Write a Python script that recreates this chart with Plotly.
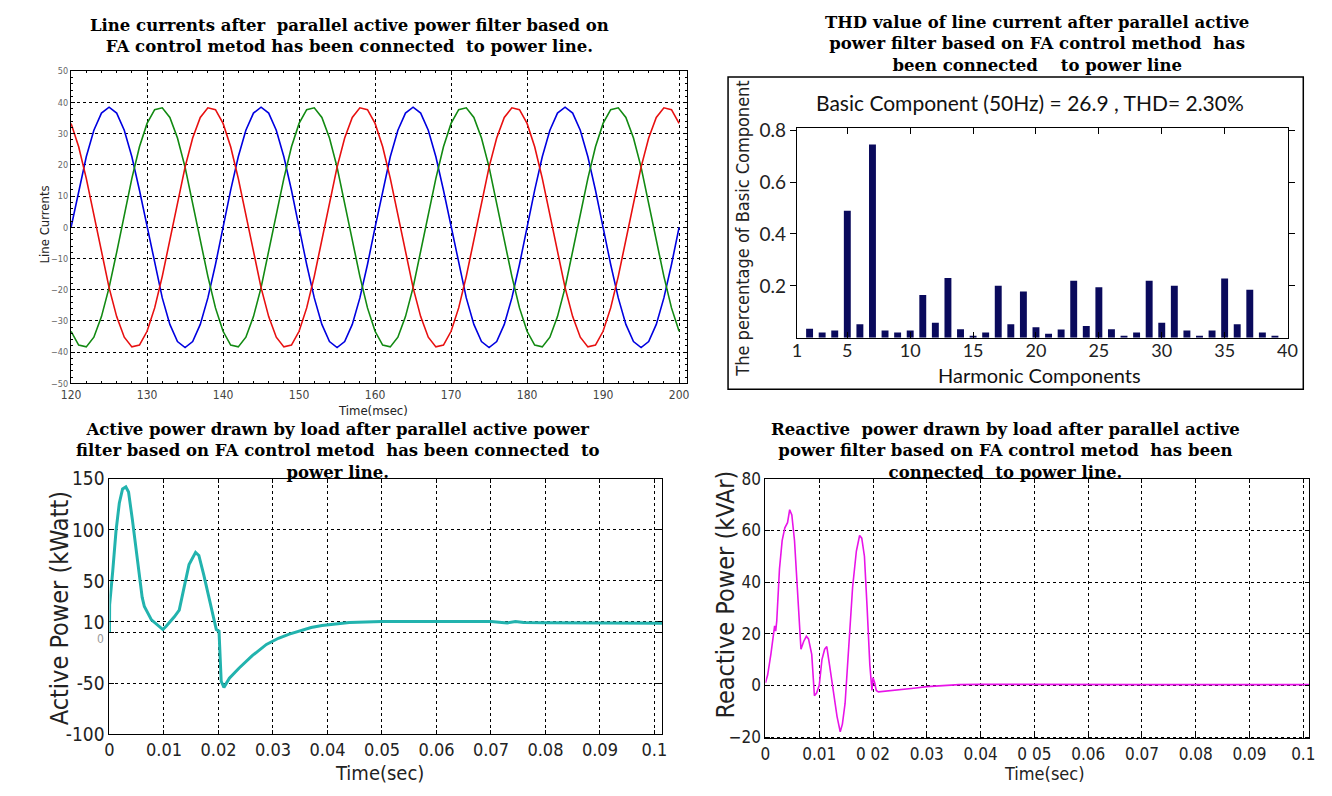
import plotly.graph_objects as go

W, H = 1332, 796

# ---------------- data ----------------
# Panel 1: three-phase line currents (ms, A), read at 1 ms steps
time_ms = list(range(120, 201))
phase_a = [0, 11.9, 22.6, 31.1, 36.6, 38.5, 36.6, 31.1, 22.6, 11.9, 0, -11.9, -22.6, -31.1, -36.6, -38.5, -36.6, -31.1, -22.6, -11.9,
           0, 11.9, 22.6, 31.1, 36.6, 38.5, 36.6, 31.1, 22.6, 11.9, 0, -11.9, -22.6, -31.1, -36.6, -38.5, -36.6, -31.1, -22.6, -11.9,
           0, 11.9, 22.6, 31.1, 36.6, 38.5, 36.6, 31.1, 22.6, 11.9, 0, -11.9, -22.6, -31.1, -36.6, -38.5, -36.6, -31.1, -22.6, -11.9,
           0, 11.9, 22.6, 31.1, 36.6, 38.5, 36.6, 31.1, 22.6, 11.9, 0, -11.9, -22.6, -31.1, -36.6, -38.5, -36.6, -31.1, -22.6, -11.9,
           0]
phase_b = [-33.3, -37.7, -38.3, -35.2, -28.6, -19.3, -8.0, 4.0, 15.7, 25.8, 33.3, 37.7, 38.3, 35.2, 28.6, 19.3, 8.0, -4.0, -15.7, -25.8,
           -33.3, -37.7, -38.3, -35.2, -28.6, -19.3, -8.0, 4.0, 15.7, 25.8, 33.3, 37.7, 38.3, 35.2, 28.6, 19.3, 8.0, -4.0, -15.7, -25.8,
           -33.3, -37.7, -38.3, -35.2, -28.6, -19.3, -8.0, 4.0, 15.7, 25.8, 33.3, 37.7, 38.3, 35.2, 28.6, 19.3, 8.0, -4.0, -15.7, -25.8,
           -33.3, -37.7, -38.3, -35.2, -28.6, -19.3, -8.0, 4.0, 15.7, 25.8, 33.3, 37.7, 38.3, 35.2, 28.6, 19.3, 8.0, -4.0, -15.7, -25.8,
           -33.3]
phase_c = [33.3, 25.8, 15.7, 4.0, -8.0, -19.3, -28.6, -35.2, -38.3, -37.7, -33.3, -25.8, -15.7, -4.0, 8.0, 19.3, 28.6, 35.2, 38.3, 37.7,
           33.3, 25.8, 15.7, 4.0, -8.0, -19.3, -28.6, -35.2, -38.3, -37.7, -33.3, -25.8, -15.7, -4.0, 8.0, 19.3, 28.6, 35.2, 38.3, 37.7,
           33.3, 25.8, 15.7, 4.0, -8.0, -19.3, -28.6, -35.2, -38.3, -37.7, -33.3, -25.8, -15.7, -4.0, 8.0, 19.3, 28.6, 35.2, 38.3, 37.7,
           33.3, 25.8, 15.7, 4.0, -8.0, -19.3, -28.6, -35.2, -38.3, -37.7, -33.3, -25.8, -15.7, -4.0, 8.0, 19.3, 28.6, 35.2, 38.3, 37.7,
           33.3]

# Panel 2: harmonic spectrum (% of basic component)
harmonic_order = list(range(2, 40))
harmonic_pct = [0.035, 0.020, 0.028, 0.490, 0.052, 0.745, 0.028, 0.020, 0.028, 0.165,
                0.058, 0.230, 0.033, 0.008, 0.020, 0.200, 0.052, 0.178, 0.040, 0.015,
                0.032, 0.220, 0.045, 0.195, 0.033, 0.008, 0.020, 0.220, 0.058, 0.200,
                0.028, 0.008, 0.028, 0.228, 0.052, 0.185, 0.020, 0.008]
harmonic_ticks = [1, 5, 10, 15, 20, 25, 30, 35, 40]

# Panel 3: active power (s, kW)
p_time = [0, 0.00003, 0.0006, 0.0012, 0.0018, 0.0024, 0.0030, 0.0035, 0.0042, 0.0051, 0.0060, 0.0064, 0.0077,
          0.0098, 0.0104, 0.0119, 0.0128, 0.0137, 0.0146, 0.0158, 0.0164, 0.0173, 0.0185, 0.0196, 0.0201, 0.0205,
          0.0210, 0.0220, 0.0238, 0.0262, 0.0288, 0.0310, 0.0330, 0.0350, 0.0370, 0.0390, 0.0410, 0.0440, 0.0470,
          0.0500, 0.0600, 0.0700, 0.0720, 0.0730, 0.0745, 0.0760, 0.0800, 0.0900, 0.1000, 0.1014]
p_value = [0, 27, 60, 99, 126, 140, 142, 137, 110, 69, 34, 25, 12,
           2.5, 5.7, 15, 21.5, 44, 66, 78, 75, 56, 28, 2.5, 1, -48,
           -54, -45, -35, -23, -12, -6, -2, 1.5, 4.5, 6.5, 8, 9.5, 10,
           10.5, 10.5, 10.3, 9.5, 9, 10.5, 9.5, 9.2, 9, 8.8, 8.8]
p_tickvals = [150, 100, 50, 10, 0, -50, -100]
p_ticktext = ["150", "100", "50", "10", "", "-50", "-100"]

# Panel 4: reactive power (s, kVAr)
q_time = [0, 0.0004, 0.0010, 0.0015, 0.0017, 0.0019, 0.0021, 0.0026, 0.0031, 0.0036, 0.0041, 0.0045, 0.0049,
          0.0054, 0.0060, 0.0066, 0.0071, 0.0076, 0.0080, 0.0086, 0.0091, 0.0095, 0.0100, 0.0105, 0.0110, 0.0114,
          0.0119, 0.0126, 0.0133, 0.0139, 0.0143, 0.0148, 0.0155, 0.0162, 0.0169, 0.0175, 0.0179, 0.0184, 0.0189,
          0.0194, 0.0198, 0.0200, 0.0203, 0.0206, 0.0210, 0.0220, 0.0240, 0.0260, 0.0280, 0.0300, 0.0330, 0.0360,
          0.0400, 0.0500, 0.0600, 0.0700, 0.0800, 0.0900, 0.1000, 0.1011]
q_value = [1, 4, 12, 20, 23, 21, 25, 45, 56, 61, 63, 68, 66,
           56, 35, 14, 17, 19, 18, 12, -4, -3, 0, 10, 14, 15,
           8, -3, -12, -18, -15, -7, 15, 38, 52, 58, 57, 50, 30,
           8, -2, 3, 1, -2, -2.5, -2.3, -2, -1.5, -1, -0.5, 0, 0.3,
           0.4, 0.3, 0.3, 0.3, 0.3, 0.3, 0.3, 0.3]

time_s_ticks = [0, 0.01, 0.02, 0.03, 0.04, 0.05, 0.06, 0.07, 0.08, 0.09, 0.1]
time_s_labels = ["0", "0.01", "0.02", "0.03", "0.04", "0.05", "0.06", "0.07", "0.08", "0.09", "0.1"]
time_s_labels_q = ["0", "0.01", "0 02", "0.03", "0.04", "0 05", "0.06", "0.07", "0.08", "0.09", "0.1"]

title_lines = [
    ["Line currents after  parallel active power filter based on",
     "FA control metod has been connected  to power line."],
    ["THD value of line current after parallel active",
     "power filter based on FA control method  has",
     "been connected    to power line"],
    ["Active power drawn by load after parallel active power",
     "filter based on FA control metod  has been connected  to",
     "power line."],
    ["Reactive  power drawn by load after parallel active",
     "power filter based on FA control metod  has been",
     "connected  to power line."],
]

# ---------------- helpers ----------------
def xd(a, b):
    return [a / W, b / W]

def yd(top, bottom):
    return [1 - bottom / H, 1 - top / H]

def px(x):
    return x / W

def py(y):
    return 1 - y / H

NARROW = "Liberation Sans Narrow, DejaVu Sans Condensed, Arial Narrow, sans-serif"
SANS = "Lato, Open Sans, sans-serif"
SERIF = "DejaVu Serif, Liberation Serif, serif"

fig = go.Figure()

# Panel 1
fig.add_trace(go.Scatter(x=time_ms, y=phase_a, mode="lines", line=dict(color="#0000e0", width=1.6),
                         xaxis="x", yaxis="y", showlegend=False))
fig.add_trace(go.Scatter(x=time_ms, y=phase_b, mode="lines", line=dict(color="#128a12", width=1.6),
                         xaxis="x", yaxis="y", showlegend=False))
fig.add_trace(go.Scatter(x=time_ms, y=phase_c, mode="lines", line=dict(color="#e81010", width=1.6),
                         xaxis="x", yaxis="y", showlegend=False))

# Panel 2
fig.add_trace(go.Bar(x=harmonic_order, y=harmonic_pct, width=0.55, marker=dict(color="#0a0a5c", line=dict(width=0)),
                     xaxis="x2", yaxis="y2", showlegend=False))

# Panel 3
fig.add_trace(go.Scatter(x=p_time, y=p_value, mode="lines", line=dict(color="#22b3ae", width=3),
                         xaxis="x3", yaxis="y3", showlegend=False))

# Panel 4
fig.add_trace(go.Scatter(x=q_time, y=q_value, mode="lines", line=dict(color="#e814e8", width=1.6),
                         xaxis="x4", yaxis="y4", showlegend=False))

grid = dict(showgrid=True, gridcolor="black", griddash="dot", gridwidth=1)
box = dict(showline=True, linecolor="black", linewidth=1.2, mirror="ticks", zeroline=False)

fig.update_layout(
    width=W, height=H, margin=dict(l=0, r=0, t=0, b=0),
    paper_bgcolor="white", plot_bgcolor="white",
    showlegend=False,
    xaxis=dict(domain=xd(62, 687), range=[120, 201], anchor="y", tickvals=list(range(120, 201, 10)),
               ticks="inside", ticklen=4, tickcolor="black",
               minor=dict(ticks="inside", ticklen=2, dtick=2, tickcolor="black", showgrid=False),
               tickfont=dict(family=NARROW, size=12, color="#444"), **grid, **box),
    yaxis=dict(domain=yd(62, 383), range=[-50, 50], anchor="x", tickvals=list(range(-50, 51, 10)),
               ticks="inside", ticklen=4, tickcolor="black",
               minor=dict(ticks="inside", ticklen=2, dtick=2, tickcolor="black", showgrid=False),
               tickfont=dict(family=NARROW, size=9, color="#666"), **grid, **box),
    xaxis2=dict(domain=xd(799, 1297), range=[1, 40], anchor="y2", tickvals=harmonic_ticks,
                ticks="inside", ticklen=6, tickcolor="black", showgrid=False, ticklabelstandoff=-3,
                tickfont=dict(family=SANS, size=18, color="#222"), **box),
    yaxis2=dict(domain=yd(120, 336), range=[0, 0.81], anchor="x2", tickvals=[0.2, 0.4, 0.6, 0.8],
                ticks="outside", ticklen=6, tickcolor="black", showgrid=False,
                tickfont=dict(family=SANS, size=19, color="#222"), **box),
    xaxis3=dict(domain=xd(101, 662), range=[0, 0.1014], anchor="y3", tickvals=time_s_ticks, ticktext=time_s_labels,
                ticks="inside", ticklen=4, tickcolor="black", ticklabelstandoff=-1,
                tickfont=dict(family=NARROW, size=18, color="#222"), **grid, **box),
    yaxis3=dict(domain=yd(481, 744), range=[-100, 150], anchor="x3", tickvals=p_tickvals, ticktext=p_ticktext,
                ticks="inside", ticklen=4, tickcolor="black",
                tickfont=dict(family=NARROW, size=19, color="#222"), **grid, **box),
    xaxis4=dict(domain=xd(767, 1319), range=[0, 0.1011], anchor="y4", tickvals=time_s_ticks, ticktext=time_s_labels_q,
                ticks="inside", ticklen=4, tickcolor="black",
                tickfont=dict(family=NARROW, size=17, color="#222"), **grid, **box),
    yaxis4=dict(domain=yd(481, 748), range=[-20.5, 80], anchor="x4", tickvals=[-20, 0, 20, 40, 60, 80],
                ticks="inside", ticklen=4, tickcolor="black",
                tickfont=dict(family=NARROW, size=17, color="#222"), **grid, **box),
)

# outer frame of the spectrum panel
fig.add_shape(type="rect", xref="paper", yref="paper", x0=px(729), x1=px(1313), y0=py(389), y1=py(68),
              line=dict(color="black", width=1.5), fillcolor="rgba(0,0,0,0)")

ann = []
title_centers = [(345, 26), (1043, 34), (333, 452), (1011, 452)]
for lines, (cx, cy) in zip(title_lines, title_centers):
    ann.append(dict(text="<b>" + "<br>".join(lines) + "</b>", x=px(cx), y=py(cy),
                    font=dict(family=SERIF, size=16.5, color="black")))

# small "0" label of the active power axis
ann.append(dict(text="0", xref="x3 domain", yref="y3", x=0, y=0, xanchor="right", yanchor="top",
                xshift=-3, yshift=2, font=dict(family=NARROW, size=12, color="#999999")))

# axis labels
ann += [
    dict(text="Line Currents", x=px(35), y=py(219), textangle=-90, font=dict(family=NARROW, size=13, color="#222")),
    dict(text="Time(msec)", x=px(369), y=py(411), font=dict(family=NARROW, size=13, color="#222")),
    dict(text="Basic Component (50Hz) = 26.9 , THD= 2.30%", x=px(1036), y=py(94),
         font=dict(family=SANS, size=21, color="#111")),
    dict(text="Harmonic Components", x=px(1045), y=py(374), font=dict(family=SANS, size=20, color="#111")),
    dict(text="The percentage of Basic Component", x=px(744), y=py(224), textangle=-90,
         font=dict(family=NARROW, size=18, color="#222")),
    dict(text="Active Power (kWatt)", x=px(50), y=py(614), textangle=-90,
         font=dict(family=NARROW, size=25, color="#222")),
    dict(text="Time(sec)", x=px(375), y=py(784), font=dict(family=NARROW, size=20, color="#222")),
    dict(text="Reactive Power (kVAr)", x=px(726), y=py(600), textangle=-90,
         font=dict(family=NARROW, size=25, color="#222")),
    dict(text="Time(sec)", x=px(1050), y=py(784), font=dict(family=NARROW, size=18, color="#222")),
]
for a in ann:
    a.setdefault("xref", "paper")
    a.setdefault("yref", "paper")
    a.setdefault("showarrow", False)
    a.setdefault("xanchor", "center")
    a.setdefault("yanchor", "middle")
fig.update_layout(annotations=ann)

fig.write_html("out.html", config={"displayModeBar": False},
               post_script="document.body.style.margin='0';document.body.style.overflow='hidden';")
